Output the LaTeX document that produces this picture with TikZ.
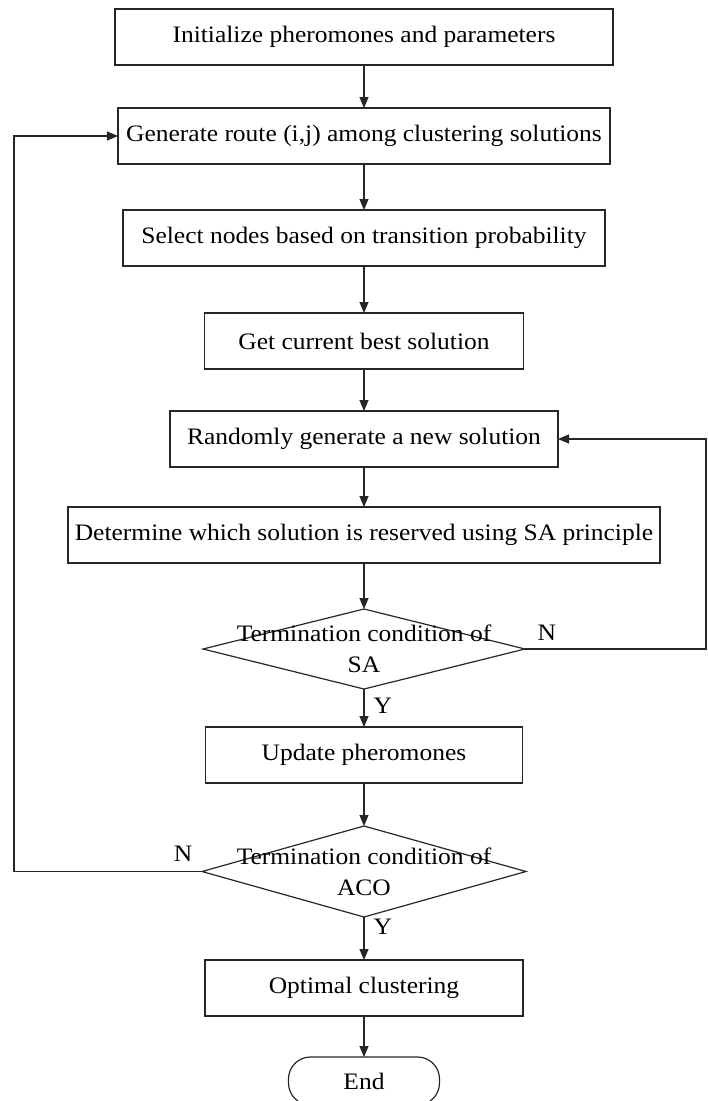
\documentclass[tikz,border=0pt]{standalone}
\usepackage{fontspec}
\setmainfont{Liberation Serif}[FakeStretch=1.08]
\usetikzlibrary{shapes.geometric, arrows.meta, positioning, calc}
\newcommand{\flowfont}{\fontsize{23.6}{31}\selectfont}

\begin{document}
\begin{tikzpicture}[
    % --- node styles ---
    proc/.style={rectangle, draw=black!85, line width=1.2pt, outer sep=0pt,
        minimum height=56pt, text centered, inner sep=0pt, font=\flowfont},
    dec/.style={diamond, draw=black!85, line width=1.2pt, outer sep=0pt, inner sep=0pt},
    dectxt/.style={align=center, inner sep=0pt, font=\flowfont},
    term/.style={rectangle, rounded corners=22pt, draw=black!85, line width=1.2pt,
        outer sep=0pt, minimum width=151pt, minimum height=48pt, font=\flowfont},
    % --- arrow / label styles ---
    arr/.style={-{Triangle[length=11pt,width=9pt]}, line width=1.2pt, draw=black!85},
    lbl/.style={font=\flowfont, inner sep=1pt},
    node distance=43pt
]
\useasboundingbox (-364pt,37pt) rectangle (344pt,-1064pt);

%%% ================= ACO PART =================
\node (init) [proc, minimum width=498pt]
    {Initialize pheromones and parameters};
\node (route) [proc, minimum width=492pt, below=43pt of init]
    {Generate route (i,j) among clustering solutions};
\node (select) [proc, minimum width=482pt, below=46pt of route]
    {Select nodes based on transition probability};
\node (best) [proc, minimum width=319pt, below=47pt of select]
    {Get current best solution};

%%% ================= SA PART =================
\node (rand) [proc, minimum width=388pt, below=42pt of best]
    {Randomly generate a new solution};
\node (keep) [proc, minimum width=592pt, below=40pt of rand]
    {Determine which solution is reserved using SA principle};
\node (sa) [dec, minimum width=322pt, minimum height=80pt, below=46pt of keep] {};
\node (satxt) [dectxt] at (sa) {Termination condition of\\SA};

%%% ================= UPDATE / STOP =================
\node (upd) [proc, minimum width=317pt, below=38pt of sa]
    {Update pheromones};
\node (aco) [dec, minimum width=324pt, minimum height=91pt, below=43pt of upd] {};
\node (acotxt) [dectxt] at (aco) {Termination condition of\\ACO};
\node (opt) [proc, minimum width=318pt, below=43pt of aco]
    {Optimal clustering};
\node (endnode) [term, below=41pt of opt] {End};

%% loop columns
\coordinate (rloop) at (342pt,0);
\coordinate (lloop) at (-350pt,0);

%%% ================= ARROWS =================
\draw [arr] (init) -- (route);
\draw [arr] (route) -- (select);
\draw [arr] (select) -- (best);
\draw [arr] (best) -- (rand);
\draw [arr] (rand) -- (keep);
\draw [arr] (keep) -- (sa);
\draw [arr] (sa) -- node[lbl, right=8pt, pos=0.45] {Y} (upd);
\draw [arr] (upd) -- (aco);
\draw [arr] (aco) -- node[lbl, right=8pt, pos=0.22] {Y} (opt);
\draw [arr] (opt) -- (endnode);

%% Back loops
\draw [arr] (sa.east) -- node[lbl, above=7pt, pos=0.12] {N} (sa.east -| rloop) |- (rand.east);
\draw [arr] (aco.west) -- node[lbl, above=8pt, pos=0.1] {N} (aco.west -| lloop) |- (route.west);

\end{tikzpicture}
\end{document}
